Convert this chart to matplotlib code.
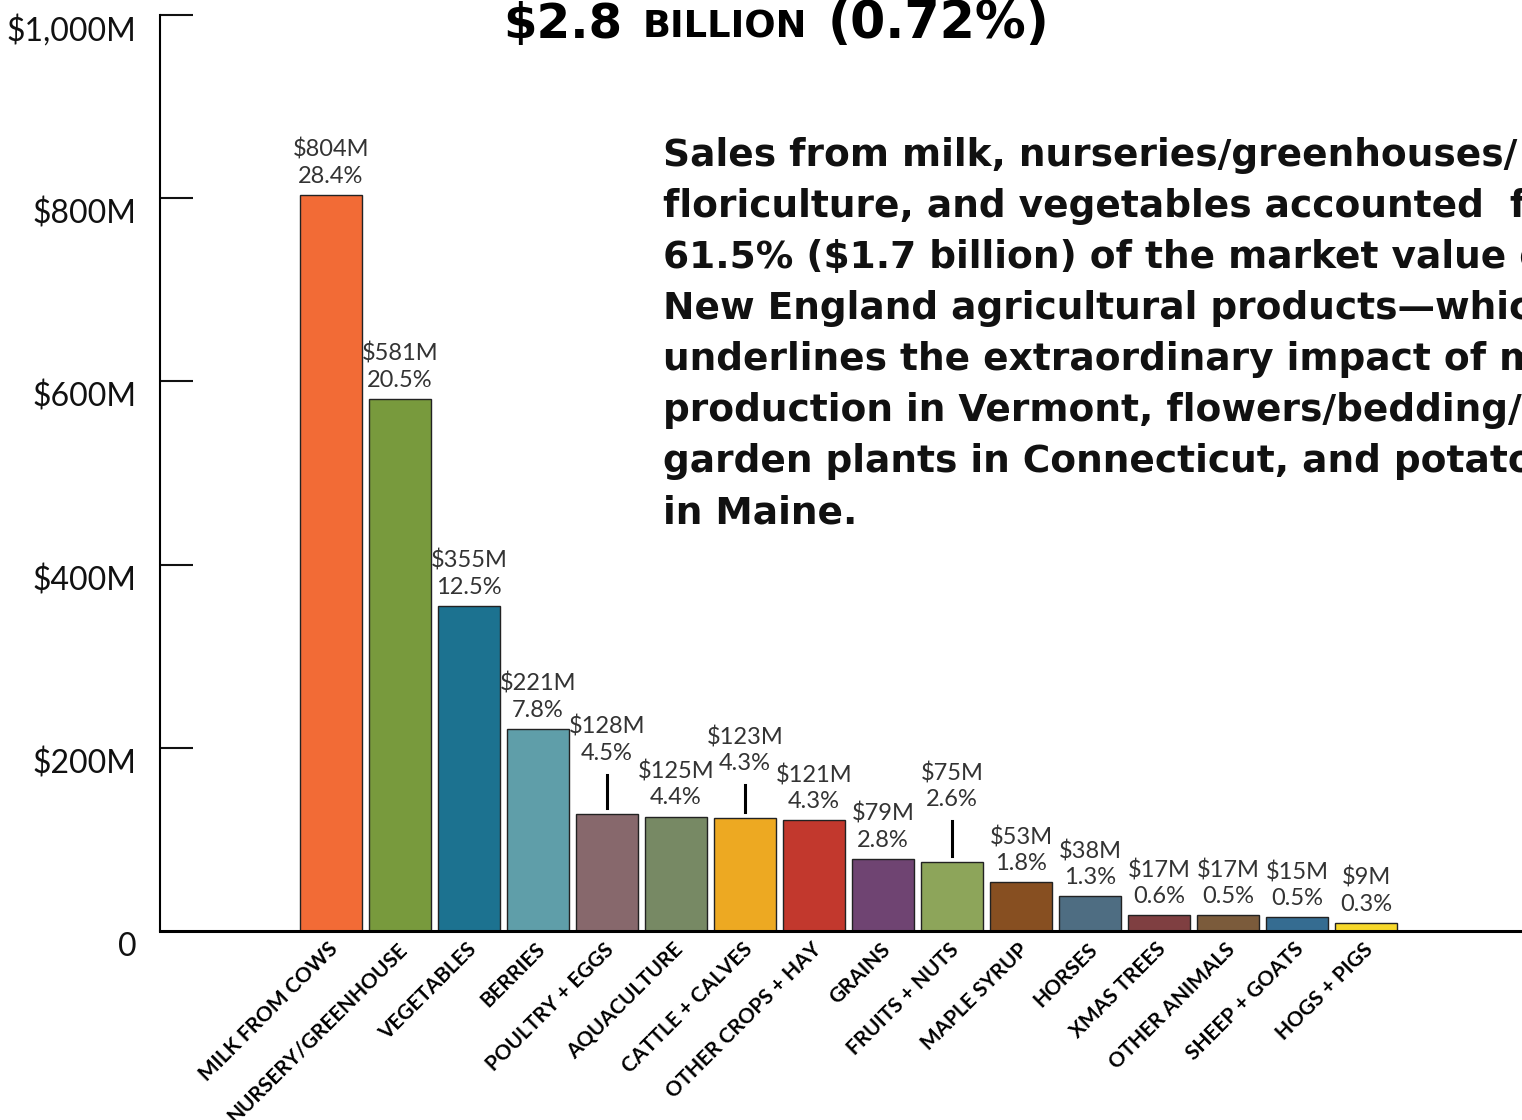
import matplotlib
matplotlib.use("Agg")
import matplotlib.pyplot as plt
from matplotlib.transforms import ScaledTranslation, IdentityTransform
from matplotlib.lines import Line2D

# ---------------- data ----------------
categories = ["MILK FROM COWS", "NURSERY/GREENHOUSE", "VEGETABLES", "BERRIES",
              "POULTRY + EGGS", "AQUACULTURE", "CATTLE + CALVES", "OTHER CROPS + HAY",
              "GRAINS", "FRUITS + NUTS", "MAPLE SYRUP", "HORSES", "XMAS TREES",
              "OTHER ANIMALS", "SHEEP + GOATS", "HOGS + PIGS"]
values = [804, 581, 355, 221, 128, 125, 123, 121, 79, 75, 53, 38, 17, 17, 15, 9]
shares = ["28.4%", "20.5%", "12.5%", "7.8%", "4.5%", "4.4%", "4.3%", "4.3%",
          "2.8%", "2.6%", "1.8%", "1.3%", "0.6%", "0.5%", "0.5%", "0.3%"]
colors = ["#F26B36", "#789A3D", "#1C7290", "#5F9EA9", "#87686C", "#778964",
          "#EDA922", "#C2382D", "#6F4472", "#8DA55A", "#874F21", "#4E6D82",
          "#7F3F41", "#7B5B3B", "#356C91", "#F7D82A"]
ytick_values = [0, 200, 400, 600, 800, 1000]
ytick_labels = ["0", "\\$200M", "\\$400M", "\\$600M", "\\$800M", "\\$1,000M"]
leader_lift = {4: 50, 6: 44, 9: 52}   # labels lifted with a leader line (px)

title_parts = ["\\$2.8", "BILLION", "(0.72%)"]
note_lines = ["Sales from milk, nurseries/greenhouses/",
              "floriculture, and vegetables accounted  for",
              "61.5% (\\$1.7 billion) of the market value of",
              "New England agricultural products\u2014which",
              "underlines the extraordinary impact of milk",
              "production in Vermont, flowers/bedding/",
              "garden plants in Connecticut, and potatoes",
              "in Maine."]

# ---------------- figure ----------------
W, H, DPI = 1522, 1120, 100
fig = plt.figure(figsize=(W / DPI, H / DPI), dpi=DPI)
FONT = ["Lato", "DejaVu Sans"]
WIDE = ["DejaVu Sans"]
plt.rcParams["font.family"] = FONT
renderer = fig.canvas.get_renderer()

ax_left_px, ax_right_px, ax_top_px, ax_bot_px = 160, 1600, 15, 931
ax = fig.add_axes([ax_left_px / W, 1 - ax_bot_px / H,
                   (ax_right_px - ax_left_px) / W, (ax_bot_px - ax_top_px) / H])
first_c, step = 331, 69
ax.set_xlim((ax_left_px - first_c) / step, (ax_right_px - first_c) / step)
ax.set_ylim(0, 1000)

x = list(range(len(values)))
ax.bar(x, values, width=0.9, color=colors, edgecolor="#222222", linewidth=1.0, zorder=2)

# spines
for s in ["top", "right"]:
    ax.spines[s].set_visible(False)
ax.spines["left"].set_linewidth(1.5)
ax.spines["bottom"].set_linewidth(2.2)
ax.spines["left"].set_bounds(0, 1000)

# y ticks
ax.set_yticks(ytick_values)
ax.set_yticklabels(ytick_labels, fontsize=23, fontweight="normal", color="#111111")
ax.tick_params(axis="y", direction="in", length=24, width=1.5, pad=17, colors="#111111")
for lab in ax.get_yticklabels():
    lab.set_transform(lab.get_transform() + ScaledTranslation(0, -13 / DPI, fig.dpi_scale_trans))
ax.yaxis.get_major_ticks()[0].tick1line.set_visible(False)

# x tick labels
ax.set_xticks(x)
ax.set_xticklabels(categories, rotation=45, ha="right", va="center",
                   rotation_mode="anchor", fontsize=15, fontweight="bold")
ax.tick_params(axis="x", length=0, pad=11)
for lab in ax.get_xticklabels():
    lab.set_transform(lab.get_transform() + ScaledTranslation(4 / DPI, 0, fig.dpi_scale_trans))

# value labels (+ leader lines for lifted ones)
px2pt = 72 / DPI
for i, (v, s) in enumerate(zip(values, shares)):
    lift = leader_lift.get(i, 8)
    if i in leader_lift:
        p0 = ax.transData.transform((i, v))
        fig.add_artist(Line2D([p0[0], p0[0]], [p0[1] + 6, p0[1] + lift - 11],
                              color="black", lw=2.2, transform=IdentityTransform()))
    ax.annotate("\\$%dM\n%s" % (v, s), xy=(i, v), xycoords="data",
                xytext=(0, lift * px2pt), textcoords="offset points",
                ha="center", va="bottom", fontsize=17, fontweight="normal",
                color="#333333", linespacing=1.3, annotation_clip=False)

# helpers
def ftxt(xpx, ypx, s, **kw):
    return fig.text(xpx / W, 1 - ypx / H, s, **kw)

def fit_width(t, target_px):
    w = t.get_window_extent(renderer).width
    t.set_fontsize(t.get_fontsize() * target_px / w)
    return t.get_fontsize()

# title (cut at the top)
t1 = ftxt(503, 38, title_parts[0], fontsize=40, fontweight="bold", family=WIDE, va="baseline", ha="left")
t2 = ftxt(643, 38, title_parts[1], fontsize=25, fontweight="bold", family=WIDE, va="baseline", ha="left")
t3 = ftxt(828, 38, title_parts[2], fontsize=40, fontweight="bold", family=WIDE, va="baseline", ha="left")
fit_width(t1, 119)
fit_width(t2, 165)
fit_width(t3, 222)

# note block
notes = []
for k, line in enumerate(note_lines):
    notes.append(ftxt(663, 166 + 51 * k, line, fontsize=26, fontweight="bold", family=WIDE,
                      va="baseline", ha="left", color="#111111"))
fs = fit_width(notes[0], 854)
for t in notes[1:]:
    t.set_fontsize(fs)

fig.savefig("out.png", dpi=DPI)
